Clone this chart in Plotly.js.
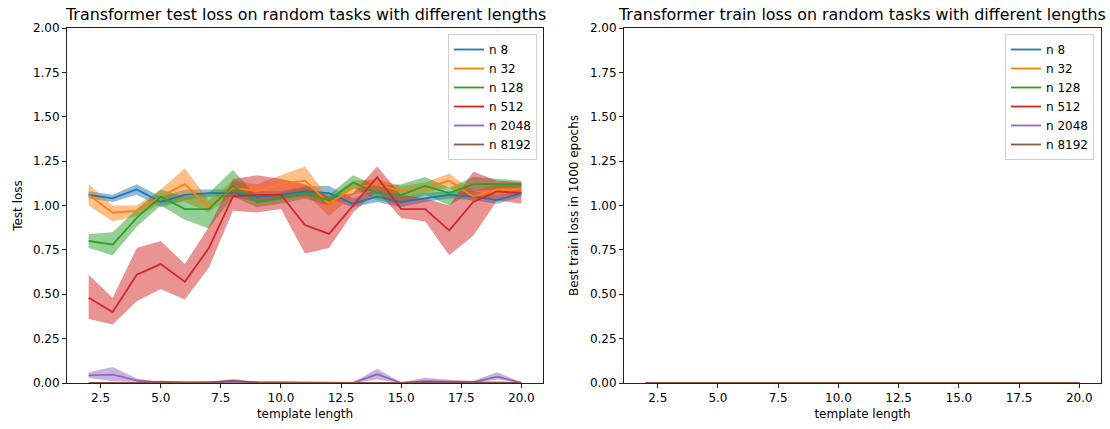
<!DOCTYPE html>
<html>
<head>
<meta charset="utf-8">
<script src="https://cdn.plot.ly/plotly-3.0.1.min.js"></script>
<style>
html,body{margin:0;padding:0;background:#fff;}
#chart{width:1110px;height:429px;}
</style>
</head>
<body>
<div id="chart"></div>
<script>
// ---- data ----
const templateLength = [2,3,4,5,6,7,8,9,10,11,12,13,14,15,16,17,18,19,20];
const seriesNames = ["n 8","n 32","n 128","n 512","n 2048","n 8192"];
const seriesColors = ["#1f77b4","#ff7f0e","#2ca02c","#d62728","#9467bd","#8c564b"];

// test loss means
const testN8    = [1.06,1.04,1.09,1.02,1.06,1.07,1.07,1.05,1.06,1.08,1.07,1.01,1.05,1.02,1.04,1.06,1.05,1.03,1.07];
const testN32   = [1.06,0.96,0.97,1.05,1.12,0.99,1.10,1.08,1.12,1.14,1.01,1.10,1.12,1.08,1.10,1.14,1.05,1.09,1.09];
const testN128  = [0.80,0.78,0.93,1.05,0.98,0.98,1.11,1.02,1.04,1.07,1.03,1.13,1.07,1.06,1.11,1.07,1.12,1.12,1.12];
const testN512  = [0.48,0.40,0.61,0.67,0.57,0.76,1.05,1.06,1.06,0.89,0.84,1.00,1.16,0.98,0.98,0.86,1.02,1.08,1.07];
const testN2048 = [0.043,0.047,0.015,0.002,0.001,0.003,0.008,0.004,0.003,0.002,0.002,0.001,0.049,0.001,0.011,0.008,0.005,0.036,0.001];
const testN8192 = [0.001,0.001,0.002,0.006,0.002,0.002,0.012,0.003,0.002,0.002,0.001,0.002,0.002,0.001,0.006,0.004,0.002,0.003,0.002];

// test loss band lower / upper
const testN8Lo    = [1.04,1.02,1.06,0.99,1.03,1.05,1.05,1.02,1.04,1.05,1.04,0.99,1.02,0.99,1.02,1.04,1.03,1.01,1.05];
const testN8Hi    = [1.08,1.06,1.12,1.05,1.09,1.09,1.09,1.08,1.08,1.11,1.11,1.04,1.09,1.05,1.07,1.08,1.08,1.06,1.09];
const testN32Lo   = [1.00,0.91,0.94,1.01,1.02,0.96,1.06,1.04,1.07,1.07,0.94,1.06,1.09,1.05,1.07,1.10,1.02,1.06,1.06];
const testN32Hi   = [1.12,1.00,1.00,1.09,1.21,1.03,1.14,1.12,1.17,1.22,1.04,1.14,1.15,1.11,1.13,1.18,1.08,1.12,1.12];
const testN128Lo  = [0.76,0.72,0.88,1.00,0.92,0.87,1.05,0.99,1.01,1.04,1.00,1.10,1.03,1.01,1.06,1.00,1.08,1.09,1.10];
const testN128Hi  = [0.84,0.85,0.98,1.09,1.05,1.07,1.20,1.05,1.07,1.10,1.06,1.17,1.11,1.12,1.16,1.10,1.16,1.15,1.14];
const testN512Lo  = [0.36,0.33,0.46,0.53,0.47,0.65,0.97,0.96,0.98,0.73,0.76,0.96,1.08,0.93,0.91,0.72,0.83,1.03,1.01];
const testN512Hi  = [0.61,0.48,0.76,0.80,0.67,0.88,1.15,1.17,1.15,1.12,1.05,1.07,1.22,1.06,1.04,1.00,1.19,1.14,1.13];
const testN2048Lo = [0.030,0.010,0.005,0.000,0.000,0.000,0.002,0.000,0.000,0.000,0.000,0.000,0.020,0.000,0.000,0.002,0.000,0.020,0.000];
const testN2048Hi = [0.060,0.090,0.025,0.006,0.005,0.008,0.015,0.008,0.010,0.006,0.005,0.003,0.080,0.003,0.030,0.018,0.012,0.060,0.003];
const testN8192Lo = [0.000,0.000,0.000,0.002,0.000,0.000,0.004,0.000,0.000,0.000,0.000,0.000,0.000,0.000,0.002,0.001,0.000,0.000,0.000];
const testN8192Hi = [0.003,0.003,0.005,0.012,0.005,0.005,0.022,0.007,0.005,0.005,0.003,0.005,0.005,0.003,0.012,0.008,0.005,0.006,0.005];

// best train loss (all ~0)
const trainN8    = [0,0,0,0,0,0,0,0,0,0,0,0,0,0,0,0,0,0,0];
const trainN32   = [0,0,0,0,0,0,0,0,0,0,0,0,0,0,0,0,0,0,0];
const trainN128  = [0,0,0,0,0,0,0,0,0,0,0,0,0,0,0,0,0,0,0];
const trainN512  = [0,0,0,0,0,0,0,0,0,0,0,0,0,0,0,0,0,0,0];
const trainN2048 = [0,0,0,0,0,0,0,0,0,0,0,0,0,0,0,0,0,0,0];
const trainN8192 = [0,0,0,0,0,0,0,0,0,0,0,0,0,0,0,0,0,0,0];

const testMeans = [testN8,testN32,testN128,testN512,testN2048,testN8192];
const testLows  = [testN8Lo,testN32Lo,testN128Lo,testN512Lo,testN2048Lo,testN8192Lo];
const testHighs = [testN8Hi,testN32Hi,testN128Hi,testN512Hi,testN2048Hi,testN8192Hi];
const trainMeans = [trainN8,trainN32,trainN128,trainN512,trainN2048,trainN8192];

const titleLeft = "Transformer test loss on random tasks with different lengths";
const titleRight = "Transformer train loss on random tasks with different lengths";
const xLabel = "template length";
const yLabelLeft = "Test loss";
const yLabelRight = "Best train loss in 1000 epochs";

// ---- build ----
function rgba(hex, a){
  const r=parseInt(hex.slice(1,3),16),g=parseInt(hex.slice(3,5),16),b=parseInt(hex.slice(5,7),16);
  return `rgba(${r},${g},${b},${a})`;
}
const FONT = "DejaVu Sans, sans-serif";
const traces = [];
// bands first (drawn beneath all lines, as matplotlib zorder does)
for (let i=0;i<seriesNames.length;i++){
  const c = seriesColors[i];
  traces.push({
    x: templateLength.concat(templateLength.slice().reverse()),
    y: testHighs[i].concat(testLows[i].slice().reverse()),
    type:'scatter', mode:'lines', fill:'toself', fillcolor: rgba(c,0.5),
    line:{width:0,color:rgba(c,0)}, hoverinfo:'skip', showlegend:false,
    xaxis:'x', yaxis:'y'
  });
}
for (let i=0;i<seriesNames.length;i++){
  traces.push({
    x: templateLength, y: testMeans[i], name: seriesNames[i],
    type:'scatter', mode:'lines', line:{color:seriesColors[i],width:1.8},
    xaxis:'x', yaxis:'y', legend:'legend'
  });
}
for (let i=0;i<seriesNames.length;i++){
  traces.push({
    x: templateLength, y: trainMeans[i], name: seriesNames[i],
    type:'scatter', mode:'lines', line:{color:seriesColors[i],width:1.8},
    xaxis:'x2', yaxis:'y2', legend:'legend2'
  });
}

const yTop = 1-28/429, yBot = 1-383/429;
const axCommon = {
  showline:true, mirror:true, linecolor:'#222', linewidth:1,
  ticks:'outside', ticklen:4, tickwidth:1, tickcolor:'#222',
  showgrid:false, zeroline:false,
  tickfont:{family:FONT,size:12,color:'#000'}
};
const xAx = Object.assign({}, axCommon, {
  range:[1.1,20.9], tick0:0, dtick:2.5, tickformat:'.1f',
  title:{text:xLabel, font:{family:FONT,size:12,color:'#000'}, standoff:5}
});
const yAx = Object.assign({}, axCommon, {
  range:[0,2], tick0:0, dtick:0.25, tickformat:'.2f'
});
const legendCommon = {
  font:{family:FONT,size:12,color:'#000'},
  bgcolor:'rgba(255,255,255,0.8)', bordercolor:'#d0d0d0', borderwidth:1,
  xanchor:'right', yanchor:'top', tracegroupgap:0, itemwidth:30
};

const layout = {
  width:1110, height:429,
  margin:{l:0,r:0,t:0,b:0},
  paper_bgcolor:'#fff', plot_bgcolor:'#fff',
  showlegend:true,
  xaxis: Object.assign({}, xAx, {domain:[67/1110,543/1110], anchor:'y'}),
  yaxis: Object.assign({}, yAx, {domain:[yBot,yTop], anchor:'x',
    title:{text:yLabelLeft, font:{family:FONT,size:12,color:'#000'}, standoff:7}}),
  xaxis2: Object.assign({}, xAx, {domain:[624/1110,1101/1110], anchor:'y2'}),
  yaxis2: Object.assign({}, yAx, {domain:[yBot,yTop], anchor:'x2',
    title:{text:yLabelRight, font:{family:FONT,size:12,color:'#000'}, standoff:8}}),
  legend: Object.assign({}, legendCommon, {x:537/1110, y:1-34/429}),
  legend2: Object.assign({}, legendCommon, {x:1094/1110, y:1-34/429}),
  annotations:[
    {text:titleLeft, xref:'paper', yref:'paper', x:305/1110, y:1-14/429, xanchor:'center', yanchor:'middle',
     showarrow:false, font:{family:FONT,size:15.9,color:'#000'}},
    {text:titleRight, xref:'paper', yref:'paper', x:862/1110, y:1-14/429, xanchor:'center', yanchor:'middle',
     showarrow:false, font:{family:FONT,size:15.9,color:'#000'}}
  ]
};

Plotly.newPlot('chart', traces, layout, {staticPlot:true, displayModeBar:false});
</script>
</body>
</html>
